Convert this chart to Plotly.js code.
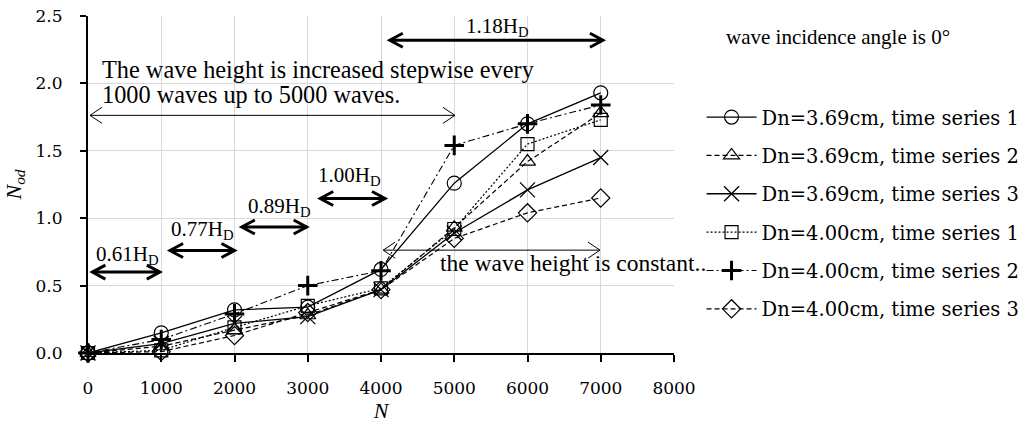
<!DOCTYPE html>
<html>
<head>
<meta charset="utf-8">
<script src="https://cdn.plot.ly/plotly-3.0.1.min.js"></script>
<style>html,body{margin:0;padding:0;background:#fff;}</style>
</head>
<body>
<div id="chart" style="width:1026px;height:425px;"></div>
<script>
// ---- data ----
const N = [0, 1000, 2000, 3000, 4000, 5000, 6000, 7000];
const dn369_ts1 = [0, 0.15, 0.32, 0.34, 0.62, 1.26, 1.70, 1.93];
const dn369_ts2 = [0, 0.05, 0.17, 0.28, 0.47, 0.93, 1.42, 1.78];
const dn369_ts3 = [0, 0.07, 0.22, 0.27, 0.47, 0.89, 1.21, 1.45];
const dn400_ts1 = [0, 0.02, 0.19, 0.35, 0.48, 0.92, 1.55, 1.73];
const dn400_ts2 = [0, 0.10, 0.29, 0.50, 0.61, 1.54, 1.70, 1.84];
const dn400_ts3 = [0, 0.01, 0.13, 0.30, 0.47, 0.85, 1.04, 1.15];
const seriesNames = [
  "Dn=3.69cm, time series 1", "Dn=3.69cm, time series 2", "Dn=3.69cm, time series 3",
  "Dn=4.00cm, time series 1", "Dn=4.00cm, time series 2", "Dn=4.00cm, time series 3"
];
const xTicks = [0, 1000, 2000, 3000, 4000, 5000, 6000, 7000, 8000];
const yTicks = [0.0, 0.5, 1.0, 1.5, 2.0, 2.5];
const yTickText = ["0.0", "0.5", "1.0", "1.5", "2.0", "2.5"];

// wave height stage annotations
const stageLabels = ["0.61H<sub>D</sub>", "0.77H<sub>D</sub>", "0.89H<sub>D</sub>", "1.00H<sub>D</sub>", "1.18H<sub>D</sub>"];
const stageLabelX = [540, 1560, 2610, 3565, 5590];
const stageLabelY = [0.73, 0.91, 1.08, 1.31, 2.42];
const stageArrowX0 = [60, 1120, 2100, 3170, 4120];
const stageArrowX1 = [980, 2000, 2985, 4055, 7030];
const stageArrowY = [0.60, 0.76, 0.935, 1.146, 2.32];
// thin range arrows
const rangeArrowX0 = [27, 4030];
const rangeArrowX1 = [5010, 6990];
const rangeArrowY = [1.763, 0.763];

// ---- styles ----
const serif = "'DejaVu Serif', 'Liberation Serif', serif";
const times = "'Liberation Serif', 'Times New Roman', serif";
const styles = [
  {symbol: "circle-open", size: 14, lw: 1.3, dash: "solid", mlw: 1.2},
  {symbol: "triangle-up-open", size: 14, lw: 1.2, dash: "5px,3px", mlw: 1.2},
  {symbol: "x-thin-open", size: 15, lw: 1.3, dash: "solid", mlw: 1.3},
  {symbol: "square-open", size: 13, lw: 1.2, dash: "2px,2px", mlw: 1.2},
  {symbol: "cross-thin-open", size: 14, lw: 1.1, dash: "7px,3px,2px,3px", mlw: 3},
  {symbol: "diamond-open", size: 14, lw: 1.2, dash: "5px,3px", mlw: 1.2}
];
const ys = [dn369_ts1, dn369_ts2, dn369_ts3, dn400_ts1, dn400_ts2, dn400_ts3];

const traces = ys.map((y, i) => ({
  type: "scatter", mode: "lines+markers",
  x: N, y: y, name: seriesNames[i],
  legendgroup: "g" + i,
  cliponaxis: false,
  line: {color: "black", width: styles[i].lw, dash: styles[i].dash},
  marker: {symbol: styles[i].symbol, size: styles[i].size, color: "black",
           line: {color: "black", width: styles[i].mlw}}
}));

// ---- arrow decorations ----
function arrowShapes(x0, x1, y, w, hl, hh) {
  const common = {xref: "x", yref: "y", line: {color: "black", width: w}};
  return [
    Object.assign({type: "line", x0: x0, x1: x1, y0: y, y1: y}, common),
    Object.assign({type: "path", xsizemode: "pixel", ysizemode: "pixel", xanchor: x0, yanchor: y,
      path: `M ${hl},${hh} L 0,0 L ${hl},${-hh}`, fillcolor: "rgba(0,0,0,0)"}, common),
    Object.assign({type: "path", xsizemode: "pixel", ysizemode: "pixel", xanchor: x1, yanchor: y,
      path: `M ${-hl},${hh} L 0,0 L ${-hl},${-hh}`, fillcolor: "rgba(0,0,0,0)"}, common)
  ];
}
let shapes = [];
stageArrowX0.forEach((x0, i) => { shapes = shapes.concat(arrowShapes(x0, stageArrowX1[i], stageArrowY[i], 3, 13, 7)); });
rangeArrowX0.forEach((x0, i) => { shapes = shapes.concat(arrowShapes(x0, rangeArrowX1[i], rangeArrowY[i], 1, 12, 8)); });

const annotations = stageLabels.map((t, i) => ({
  text: t, x: stageLabelX[i], y: stageLabelY[i], xref: "x", yref: "y",
  showarrow: false, xanchor: "center", yanchor: "middle",
  font: {family: times, size: 21, color: "black"}
}));
annotations.push(
  {text: "The wave height is increased stepwise every", x: 164, y: 2.10, xref: "x", yref: "y",
   showarrow: false, xanchor: "left", yanchor: "middle", font: {family: times, size: 24.3, color: "black"}},
  {text: "1000 waves up to 5000 waves.", x: 164, y: 1.915, xref: "x", yref: "y",
   showarrow: false, xanchor: "left", yanchor: "middle", font: {family: times, size: 24.3, color: "black"}},
  {text: "the wave height is constant..", x: 4778, y: 0.667, xref: "x", yref: "y",
   showarrow: false, xanchor: "left", yanchor: "middle", font: {family: times, size: 23.5, color: "black"}},
  {text: "wave incidence angle is 0°", x: 1.0853, y: 0.9377, xref: "paper", yref: "paper",
   showarrow: false, xanchor: "left", yanchor: "middle", font: {family: times, size: 21, color: "black"}}
);

const layout = {
  width: 1026, height: 425,
  margin: {l: 88, r: 352, t: 16, b: 72, autoexpand: false},
  paper_bgcolor: "white", plot_bgcolor: "white",
  font: {family: serif, color: "black"},
  showlegend: true,
  legend: {x: 1.047, y: 0.757, xanchor: "left", yanchor: "top",
    font: {family: serif, size: 19.5, color: "black"},
    traceorder: "grouped", tracegroupgap: 10, itemwidth: 50,
    bgcolor: "rgba(0,0,0,0)"},
  xaxis: {range: [0, 8000], tickvals: xTicks, ticktext: xTicks.map(String),
    showgrid: true, gridcolor: "#d9d9d9", gridwidth: 1,
    showline: true, linecolor: "black", linewidth: 2,
    ticks: "outside", ticklen: 7, tickwidth: 2, tickcolor: "black",
    ticklabelstandoff: 12, zeroline: false,
    tickfont: {family: serif, size: 17, color: "black"},
    title: {text: "<i>N</i>", font: {family: times, size: 22, color: "black"}, standoff: 2}},
  yaxis: {range: [0, 2.5], tickvals: yTicks, ticktext: yTickText,
    showgrid: true, gridcolor: "#d9d9d9", gridwidth: 1,
    showline: true, linecolor: "black", linewidth: 2,
    ticks: "outside", ticklen: 6, tickwidth: 2, tickcolor: "black",
    ticklabelstandoff: 14, zeroline: false,
    tickfont: {family: serif, size: 17, color: "black"},
    title: {text: "<i>N<sub>od</sub></i>", font: {family: times, size: 22, color: "black"}, standoff: 8}},
  xaxis2: {range: [0, 8000], tickvals: xTicks, overlaying: "x", anchor: "y",
    showgrid: false, showline: false, zeroline: false, showticklabels: false,
    ticks: "inside", ticklen: 7, tickwidth: 2, tickcolor: "black"},
  yaxis2: {range: [0, 2.5], tickvals: yTicks, overlaying: "y", anchor: "x", side: "left",
    showgrid: false, showline: false, zeroline: false, showticklabels: false,
    ticks: "inside", ticklen: 6, tickwidth: 2, tickcolor: "black"},
  shapes: shapes,
  annotations: annotations
};

Plotly.newPlot("chart", traces, layout, {displayModeBar: false, staticPlot: true});
</script>
</body>
</html>
